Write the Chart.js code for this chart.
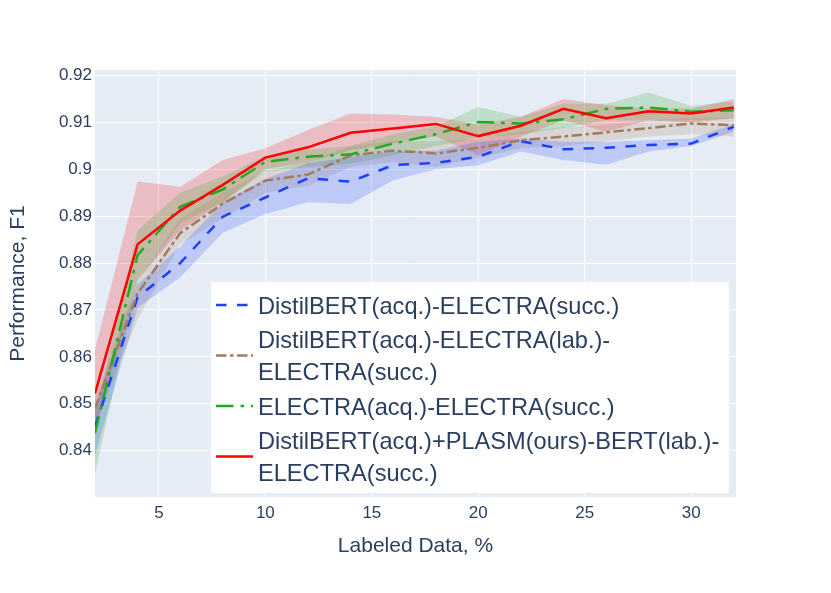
<!DOCTYPE html>
<html>
<head>
<meta charset="utf-8">
<script src="https://cdn.jsdelivr.net/npm/chart.js@4/dist/chart.umd.min.js"></script>
<style>
  html, body { margin: 0; padding: 0; background: #fff; }
  #wrap { width: 831px; height: 593px; }
</style>
</head>
<body>
<div id="wrap"><canvas id="chart" width="831" height="593"></canvas></div>
<script>
// labeled data share, %
const X_PCT = [2, 4, 6, 8, 10, 12, 14, 16, 18, 20, 22, 24, 26, 28, 30, 32];
const X_TICKS = [5, 10, 15, 20, 25, 30];
const Y_TICKS = [0.84, 0.85, 0.86, 0.87, 0.88, 0.89, 0.9, 0.91, 0.92];

const SERIES_NAMES = [
  ['DistilBERT(acq.)-ELECTRA(succ.)'],
  ['DistilBERT(acq.)-ELECTRA(lab.)-', 'ELECTRA(succ.)'],
  ['ELECTRA(acq.)-ELECTRA(succ.)'],
  ['DistilBERT(acq.)+PLASM(ours)-BERT(lab.)-', 'ELECTRA(succ.)'],
];

const BLUE_MEAN = [0.8451, 0.8727, 0.8800, 0.8899, 0.8940, 0.8981, 0.8974, 0.9009, 0.9014, 0.9027, 0.9060, 0.9043, 0.9046, 0.9052, 0.9055, 0.9091];
const BLUE_LO   = [0.8390, 0.8705, 0.8770, 0.8865, 0.8905, 0.8930, 0.8926, 0.8977, 0.9000, 0.9009, 0.9038, 0.9020, 0.9010, 0.9038, 0.9050, 0.9080];
const BLUE_HI   = [0.8495, 0.8755, 0.8835, 0.8930, 0.8980, 0.9013, 0.9027, 0.9038, 0.9040, 0.9059, 0.9066, 0.9059, 0.9059, 0.9062, 0.9066, 0.9096];

const BROWN_MEAN = [0.8490, 0.8735, 0.8864, 0.8927, 0.8976, 0.8989, 0.9030, 0.9040, 0.9034, 0.9046, 0.9062, 0.9070, 0.9079, 0.9088, 0.9098, 0.9094];
const BROWN_LO   = [0.8455, 0.8680, 0.8840, 0.8895, 0.8950, 0.8965, 0.9005, 0.9015, 0.9005, 0.9025, 0.9045, 0.9050, 0.9060, 0.9070, 0.9075, 0.9070];
const BROWN_HI   = [0.8510, 0.8760, 0.8895, 0.8950, 0.8995, 0.9015, 0.9050, 0.9060, 0.9060, 0.9065, 0.9080, 0.9090, 0.9095, 0.9105, 0.9110, 0.9110];

const GREEN_MEAN = [0.8437, 0.8817, 0.8920, 0.8957, 0.9016, 0.9027, 0.9032, 0.9055, 0.9075, 0.9101, 0.9098, 0.9107, 0.9129, 0.9132, 0.9123, 0.9126];
const GREEN_LO   = [0.8350, 0.8760, 0.8885, 0.8930, 0.8995, 0.9005, 0.9012, 0.9030, 0.9050, 0.9068, 0.9075, 0.9088, 0.9105, 0.9105, 0.9105, 0.9108];
const GREEN_HI   = [0.8475, 0.8870, 0.8950, 0.8985, 0.9028, 0.9042, 0.9050, 0.9075, 0.9092, 0.9133, 0.9112, 0.9140, 0.9140, 0.9164, 0.9135, 0.9145];

const RED_MEAN = [0.8522, 0.8840, 0.8912, 0.8967, 0.9025, 0.9047, 0.9078, 0.9087, 0.9097, 0.9071, 0.9093, 0.9129, 0.9109, 0.9124, 0.9119, 0.9132];
const RED_LO   = [0.8440, 0.8765, 0.8870, 0.8930, 0.9000, 0.9015, 0.9040, 0.9055, 0.9070, 0.9030, 0.9070, 0.9105, 0.9080, 0.9105, 0.9100, 0.9110];
const RED_HI   = [0.8615, 0.8974, 0.8963, 0.9020, 0.9045, 0.9084, 0.9119, 0.9117, 0.9112, 0.9095, 0.9112, 0.9150, 0.9137, 0.9130, 0.9130, 0.9150];

const TEXT_COLOR = '#2a3f5f';
const FONT = '"Liberation Sans", Arial, sans-serif';

const series = [
  { mean: BLUE_MEAN, lo: BLUE_LO, hi: BLUE_HI, color: '#1f3fff', band: 'rgba(31,63,255,0.2)', dash: [10.5, 10.5], order: 3 },
  { mean: BROWN_MEAN, lo: BROWN_LO, hi: BROWN_HI, color: '#a27c5c', band: 'rgba(162,124,92,0.2)', dash: [10.5, 3.5, 3.5, 3.5], order: 2 },
  { mean: GREEN_MEAN, lo: GREEN_LO, hi: GREEN_HI, color: '#22aa22', band: 'rgba(34,170,34,0.2)', dash: [17.5, 7, 3.5, 7], order: 1 },
  { mean: RED_MEAN, lo: RED_LO, hi: RED_HI, color: '#ff0000', band: 'rgba(255,0,0,0.2)', dash: [], order: 0 },
];

const pts = (ys) => X_PCT.map((x, i) => ({ x, y: ys[i] }));

const datasets = [];
series.forEach((s, i) => {
  datasets.push({ data: pts(s.lo), borderWidth: 0, pointRadius: 0, fill: false, order: 10 });
  datasets.push({ data: pts(s.hi), borderWidth: 0, pointRadius: 0, fill: '-1', backgroundColor: s.band, order: 10 });
  datasets.push({
    label: SERIES_NAMES[i].join(' '),
    data: pts(s.mean),
    borderColor: s.color,
    borderWidth: 2.5,
    borderDash: s.dash,
    pointRadius: 0,
    fill: false,
    tension: 0,
    order: s.order,
  });
});

const plotBg = {
  id: 'plotBg',
  beforeDraw(chart) {
    const { ctx, chartArea: a } = chart;
    ctx.save();
    ctx.fillStyle = '#e5ecf6';
    ctx.fillRect(a.left, a.top, a.right - a.left, a.bottom - a.top);
    ctx.restore();
  },
};

// plotly-like boxed legend inside the plot, lower right
const boxLegend = {
  id: 'boxLegend',
  afterDraw(chart) {
    const { ctx, chartArea: a } = chart;
    const left = a.left + 116, right = a.right - 7, top = a.top + 212, bottom = a.bottom - 4;
    ctx.save();
    ctx.fillStyle = '#ffffff';
    ctx.fillRect(left, top, right - left, bottom - top);
    ctx.font = '23.6px ' + FONT;
    ctx.fillStyle = TEXT_COLOR;
    ctx.textBaseline = 'middle';
    const lineH = 32;
    let y = top + 25;
    series.forEach((s, i) => {
      const lines = SERIES_NAMES[i];
      const sy = y + (lines.length - 1) * lineH / 2 - 2;
      ctx.strokeStyle = s.color;
      ctx.lineWidth = 2.5;
      ctx.setLineDash(s.dash);
      ctx.beginPath();
      ctx.moveTo(left + 5, sy);
      ctx.lineTo(left + 42, sy);
      ctx.stroke();
      ctx.setLineDash([]);
      lines.forEach((t, k) => ctx.fillText(t, left + 47, y + k * lineH));
      y += lines.length * lineH + 2.5;
    });
    ctx.restore();
  },
};

new Chart(document.getElementById('chart'), {
  type: 'line',
  data: { datasets },
  plugins: [plotBg, boxLegend],
  options: {
    responsive: false,
    animation: false,
    layout: { padding: { left: 0, top: 70, right: 95, bottom: 0 } },
    plugins: {
      legend: { display: false },
      tooltip: { enabled: false },
      filler: { drawTime: 'beforeDatasetsDraw' },
    },
    scales: {
      x: {
        type: 'linear',
        min: 2,
        max: 32.1,
        afterBuildTicks: (s) => { s.ticks = X_TICKS.map((v) => ({ value: v })); },
        afterFit: (s) => { s.height = 96; },
        grid: { color: '#ffffff', lineWidth: 1, drawTicks: false },
        border: { display: false },
        ticks: { padding: 6, color: TEXT_COLOR, font: { family: FONT, size: 17 } },
        title: { display: true, text: 'Labeled Data, %', color: TEXT_COLOR, font: { family: FONT, size: 21 }, padding: { top: 0, bottom: 34 } },
      },
      y: {
        min: 0.8301,
        max: 0.9212,
        afterBuildTicks: (s) => { s.ticks = Y_TICKS.map((v) => ({ value: v })); },
        afterFit: (s) => { s.width = 95; },
        grid: { color: '#ffffff', lineWidth: 1, drawTicks: false },
        border: { display: false },
        ticks: {
          padding: 3,
          color: TEXT_COLOR,
          font: { family: FONT, size: 17 },
          callback: (v) => String(parseFloat(v.toFixed(2))),
        },
        title: { display: true, text: 'Performance, F1', color: TEXT_COLOR, font: { family: FONT, size: 21 }, padding: { top: 6, bottom: 0 } },
      },
    },
  },
});
</script>
</body>
</html>
